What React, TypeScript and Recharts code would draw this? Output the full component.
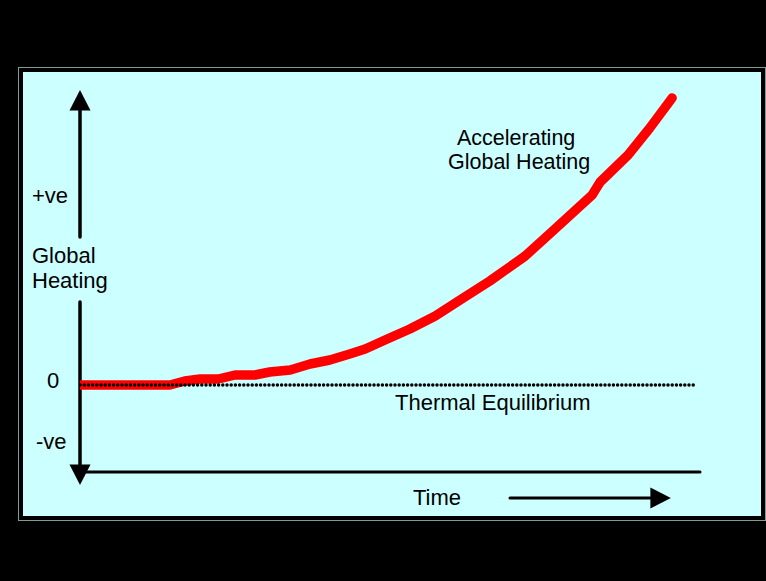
import { LineChart, Line, XAxis, YAxis, ReferenceLine } from "recharts"

// time (0..100) vs global heating
const TIME = [0, 14.5, 16.9, 19.4, 22.3, 25, 28.2, 30.6, 33.9, 37.1, 40.3, 43.5, 46, 49.2, 53.2, 57.3, 61.3, 66.1, 71.8, 76.6, 82.6, 83.9, 88.4, 91.9, 95.5]
const HEATING = [0, 0, 0.16, 0.24, 0.24, 0.4, 0.4, 0.52, 0.6, 0.84, 1.0, 1.24, 1.44, 1.8, 2.24, 2.76, 3.4, 4.16, 5.16, 6.24, 7.6, 8.12, 9.2, 10.28, 11.48]

// thermal equilibrium baseline
const EQ_TIME = [0, 99.5]
const EQ_VALUE = [0, 0]

const heatData = TIME.map((t, i) => ({ t, v: HEATING[i] }))
const eqData = EQ_TIME.map((t, i) => ({ t, v: EQ_VALUE[i] }))

const FONT = "'Liberation Sans', Arial, sans-serif"

// line with optional arrow head at its end point
const arrow = (head: boolean) => (p: any) => {
  const { x1, y1, x2, y2 } = p
  const dx = x2 - x1
  const dy = y2 - y1
  const len = Math.hypot(dx, dy) || 1
  const ux = dx / len
  const uy = dy / len
  const L = 20.5
  const W = 10.5
  const bx = x2 - ux * L
  const by = y2 - uy * L
  return (
    <g>
      <line
        x1={x1}
        y1={y1}
        x2={head ? bx : x2}
        y2={head ? by : y2}
        stroke="#000"
        strokeWidth={p.strokeWidth}
        strokeLinecap="round"
      />
      {head && (
        <polygon
          points={`${x2},${y2} ${bx - uy * W},${by + ux * W} ${bx + uy * W},${by - ux * W}`}
          fill="#000"
        />
      )}
    </g>
  )
}

export default function App() {
  return (
    <div
      style={{
        position: "absolute",
        left: 0,
        top: 0,
        width: 766,
        height: 581,
        background: "#000",
        overflow: "hidden",
      }}
    >
      <div
        style={{
          position: "absolute",
          left: 19,
          top: 68,
          width: 746,
          height: 452,
          boxSizing: "border-box",
          border: "4px solid #000",
          boxShadow: "0 0 0 1px #7c9c9c",
          background: "#ccffff",
        }}
      />
      <div style={{ position: "absolute", left: 0, top: 0 }}>
        <LineChart
          width={766}
          height={581}
          margin={{ top: 90, right: 66, bottom: 71, left: 80 }}
        >
          <XAxis type="number" dataKey="t" domain={[0, 100]} hide allowDataOverflow />
          <YAxis type="number" domain={[-5, 11.8]} hide allowDataOverflow />

          {/* axes drawn as arrows */}
          <ReferenceLine
            segment={[{ x: 0, y: 5.92 }, { x: 0, y: 11.8 }]}
            strokeWidth={3.5}
            shape={arrow(true)}
          />
          <ReferenceLine
            segment={[{ x: 0, y: 3.32 }, { x: 0, y: -4 }]}
            strokeWidth={3.5}
            shape={arrow(true)}
          />
          <ReferenceLine
            segment={[{ x: 0, y: -3.48 }, { x: 100, y: -3.48 }]}
            strokeWidth={3}
            shape={arrow(false)}
          />
          <ReferenceLine
            segment={[{ x: 69.35, y: -4.52 }, { x: 95.3, y: -4.52 }]}
            strokeWidth={3}
            shape={arrow(true)}
          />

          <Line
            data={heatData}
            dataKey="v"
            type="linear"
            stroke="#ff0000"
            strokeWidth={9.5}
            strokeLinecap="round"
            strokeLinejoin="round"
            dot={false}
            activeDot={false}
            isAnimationActive={false}
          />
          <Line
            data={eqData}
            dataKey="v"
            type="linear"
            stroke="#000"
            strokeWidth={3.5}
            strokeDasharray="0 4.2"
            strokeLinecap="round"
            dot={false}
            activeDot={false}
            isAnimationActive={false}
          />
        </LineChart>
      </div>
      <svg
        width={766}
        height={581}
        style={{ position: "absolute", left: 0, top: 0, pointerEvents: "none" }}
        fontFamily={FONT}
        fontSize={22}
        fill="#000"
      >
        <text x={32} y={203}>+ve</text>
        <text x={32} y={263}>Global</text>
        <text x={32} y={288}>Heating</text>
        <text x={47} y={388}>0</text>
        <text x={36} y={449}>-ve</text>
        <text x={395} y={410}>Thermal Equilibrium</text>
        <text x={457} y={145} fontSize={21.5}>Accelerating</text>
        <text x={448} y={169} fontSize={21.5}>Global Heating</text>
        <text x={413} y={505}>Time</text>
      </svg>
    </div>
  )
}
